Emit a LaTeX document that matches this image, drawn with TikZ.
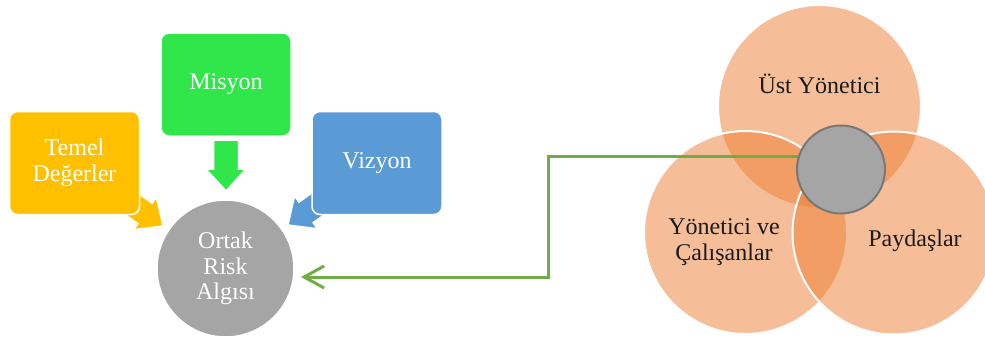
\documentclass[tikz,border=0pt]{standalone}
\usepackage{fontspec}
\setmainfont{Liberation Serif}
\usetikzlibrary{arrows.meta,calc}
\definecolor{cyellow}{HTML}{FFC000}
\definecolor{cgreen}{HTML}{30E64A}
\definecolor{cblue}{HTML}{5B9BD5}
\definecolor{cgray}{HTML}{A5A5A5}
\definecolor{cgrayd}{HTML}{787878}
\definecolor{cline}{HTML}{70AD47}
\definecolor{corange}{HTML}{ED7D31}
\definecolor{ctext}{HTML}{1A1A1A}
\begin{document}
\begin{tikzpicture}[x=1pt,y=-1pt,
  txt/.style={font=\fontsize{24}{25.5}\selectfont, align=center},
  box/.style={txt, draw=white, line width=1.5pt, rounded corners=8pt,
    minimum width=130pt, minimum height=103pt, inner sep=0pt, text=white},
  blockarr/.pic={\path[pic actions] (0,0) -- (-22,20) -- (-22,12.5) -- (-51,12.5)
     -- (-51,-12.5) -- (-22,-12.5) -- (-22,-20) -- cycle;},
  venn/.style={circle, minimum size=203pt, inner sep=0pt, fill=corange,
    fill opacity=0.5, draw=white, draw opacity=1, line width=2pt},
  vlabel/.style={txt, text=ctext},
  conn/.style={draw=cline, line width=3pt,
    -{Straight Barb[length=20pt,width=22pt,line width=3pt]}}
]
\useasboundingbox (0,0) rectangle (985,340);

% block arrows (drawn behind the boxes)
\pic[fill=cyellow, draw=white, line width=1.5pt, rotate=-35] at (163,226) {blockarr};
\pic[fill=cblue, draw=white, line width=1.5pt, rotate=-145] at (288,225) {blockarr};
\pic[fill=cgreen, draw=white, line width=1.5pt, rotate=-90] at (226,191) {blockarr};

% boxes
\node[box, fill=cyellow] (temel) at (74.5,163) {Temel\\Değerler};
\node[box, fill=cgreen] (misyon) at (226,84.5) {Misyon};
\node[box, fill=cblue] (vizyon) at (377,163) {Vizyon};

% central circle
\node[txt, circle, fill=cgray, draw=white, line width=1.5pt, minimum size=137pt,
  inner sep=0pt, text=white] (ortak) at (225.5,268.5) {Ortak\\Risk\\Algısı};

% venn circles
\node[venn] (vtop) at (819.5,106.5) {};
\node[venn] (vleft) at (745.5,232.5) {};
\node[venn] (vright) at (894,233) {};

\node[vlabel] (ltop) at (819.5,84) {Üst Yönetici};
\node[vlabel] (lleft) at (724,242) {Yönetici ve\\Çalışanlar};
\node[vlabel] (lright) at (915,241) {Paydaşlar};

% connector
\coordinate (cs) at (820,156);
\coordinate (ce) at (301,277);
\draw[conn] (cs) -- (548,156) -- (548,277) -- (ce);

% hub circle
\node[circle, fill=cgray, draw=cgrayd, line width=2pt, minimum size=88pt,
  inner sep=0pt] (hub) at (841,169.5) {};
\end{tikzpicture}
\end{document}
